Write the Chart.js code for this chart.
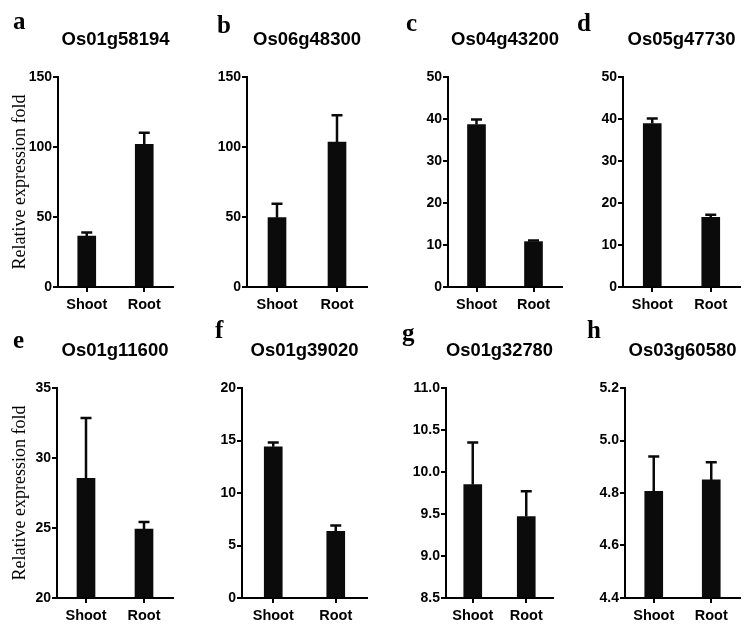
<!DOCTYPE html>
<html><head><meta charset="utf-8">
<script src="https://cdn.jsdelivr.net/npm/chart.js@4.4.0/dist/chart.umd.min.js"></script>
<style>
html,body{margin:0;padding:0;background:#fff;}
#wrap{position:relative;width:752px;height:634px;overflow:hidden;background:#fff;}
#wrap canvas{position:absolute;}
.lt{position:absolute;font-family:"Liberation Serif","Times New Roman",serif;font-weight:bold;font-size:25px;line-height:25px;color:#000;white-space:nowrap;}
</style></head><body><div id="wrap"></div>
<script>
// ---- data ----
const categories = ['Shoot', 'Root'];
const genes = ['Os01g58194', 'Os06g48300', 'Os04g43200', 'Os05g47730', 'Os01g11600', 'Os01g39020', 'Os01g32780', 'Os03g60580'];
const panelLetters = ['a', 'b', 'c', 'd', 'e', 'f', 'g', 'h'];
const shootMean = [36.3, 49.5, 38.7, 38.9, 28.55, 14.4, 9.85, 4.806];
const rootMean  = [101.9, 103.5, 10.8, 16.6, 24.92, 6.35, 9.47, 4.85];
const shootErr  = [2.6, 9.9, 1.2, 1.2, 4.3, 0.4, 0.5, 0.133];
const rootErr   = [8.2, 19.1, 0.3, 0.6, 0.5, 0.55, 0.3, 0.067];
const yMin  = [0, 0, 0, 0, 20, 0, 8.5, 4.4];
const yMax  = [150, 150, 50, 50, 35, 20, 11.0, 5.2];
const yStep = [50, 50, 10, 10, 5, 5, 0.5, 0.2];
const yAxisTitle = 'Relative expression fold';

// ---- layout ----
const cellLeft = [0, 190, 380, 567];
const cellWidth = [190, 190, 187, 185];
const rowTop = [0, 317];
const rowH = 317;
const axisX = [58, 247, 448, 623, 57, 242, 446, 625];
const endX = [173, 367, 562, 740, 173, 367, 553, 740];
const areaTop = [77, 388];
const areaBottom = [287, 598];
const titleY = [40, 351];
const letterPos = [[13, 28], [217, 32], [406, 30], [577, 30], [13, 347], [215, 337], [402, 340], [587, 337]];

const SANS = '"Liberation Sans", Arial, Helvetica, sans-serif';
const SERIF = '"Liberation Serif", "Times New Roman", serif';

const errorBars = {
  id: 'errorBars',
  afterDatasetsDraw(chart) {
    const ctx = chart.ctx;
    const ys = chart.scales.y;
    chart.data.datasets.forEach((ds, di) => {
      const meta = chart.getDatasetMeta(di);
      meta.data.forEach((bar, k) => {
        const top = ys.getPixelForValue(ds.data[k] + ds.errors[k]);
        ctx.save();
        ctx.strokeStyle = '#0a0a0a';
        ctx.lineWidth = 2.5;
        ctx.beginPath();
        ctx.moveTo(bar.x, bar.y);
        ctx.lineTo(bar.x, top);
        ctx.moveTo(bar.x - 5.5, top);
        ctx.lineTo(bar.x + 5.5, top);
        ctx.stroke();
        ctx.restore();
      });
    });
  }
};

const wrap = document.getElementById('wrap');
for (let i = 0; i < 8; i++) {
  const r = Math.floor(i / 4), c = i % 4;
  const L = cellLeft[c], W = cellWidth[c], T = rowTop[r];
  const cv = document.createElement('canvas');
  cv.width = W; cv.height = rowH;
  cv.style.left = L + 'px'; cv.style.top = T + 'px';
  cv.style.width = W + 'px'; cv.style.height = rowH + 'px';
  wrap.appendChild(cv);

  const lt = document.createElement('div');
  lt.className = 'lt';
  lt.textContent = panelLetters[i];
  lt.style.left = letterPos[i][0] + 'px';
  lt.style.top = (letterPos[i][1] - 20) + 'px';
  wrap.appendChild(lt);

  const yW = axisX[i] - L;
  const padR = L + W - endX[i];
  const xH = T + rowH - areaBottom[r];
  const tLine = 18.5 * 1.2;
  const tTop = titleY[r] - T - tLine / 2;
  const tBot = areaTop[r] - T - tTop - tLine;
  const dec = yStep[i] < 1 ? 1 : 0;

  new Chart(cv, {
    type: 'bar',
    data: {
      labels: categories,
      datasets: [{
        data: [shootMean[i], rootMean[i]],
        errors: [shootErr[i], rootErr[i]],
        backgroundColor: '#0b0b0b',
        borderWidth: 0,
        barThickness: 18,
        base: yMin[i]
      }]
    },
    options: {
      responsive: false,
      animation: false,
      devicePixelRatio: 1,
      layout: { padding: { left: 0, right: padR, top: 0, bottom: 0 } },
      plugins: {
        legend: { display: false },
        tooltip: { enabled: false },
        title: {
          display: true, text: genes[i], fullSize: false, align: 'center',
          color: '#000', font: { family: SANS, size: 18.5, weight: 'bold' },
          padding: { top: tTop, bottom: tBot }
        }
      },
      scales: {
        x: {
          offset: true,
          grid: { display: true, offset: false, drawOnChartArea: false, drawTicks: true, tickLength: 5, color: '#000', lineWidth: 2 },
          border: { display: true, color: '#000', width: 2 },
          ticks: { color: '#000', font: { family: SANS, size: 14.5, weight: 'bold' }, padding: 4, maxRotation: 0 },
          afterFit(s) { s.height = xH; }
        },
        y: {
          min: yMin[i], max: yMax[i],
          grid: { display: true, drawOnChartArea: false, drawTicks: true, tickLength: 5, color: '#000', lineWidth: 2 },
          border: { display: true, color: '#000', width: 2 },
          ticks: { stepSize: yStep[i], color: '#000', font: { family: SANS, size: 14, weight: 'bold' }, padding: 1,
                   callback: v => Number(v).toFixed(dec) },
          title: { display: c === 0, text: yAxisTitle, color: '#000', font: { family: SERIF, size: 18 }, padding: { top: 9, bottom: 0 } },
          afterFit(s) { s.width = yW; }
        }
      }
    },
    plugins: [errorBars]
  });
}
</script>
</body></html>
